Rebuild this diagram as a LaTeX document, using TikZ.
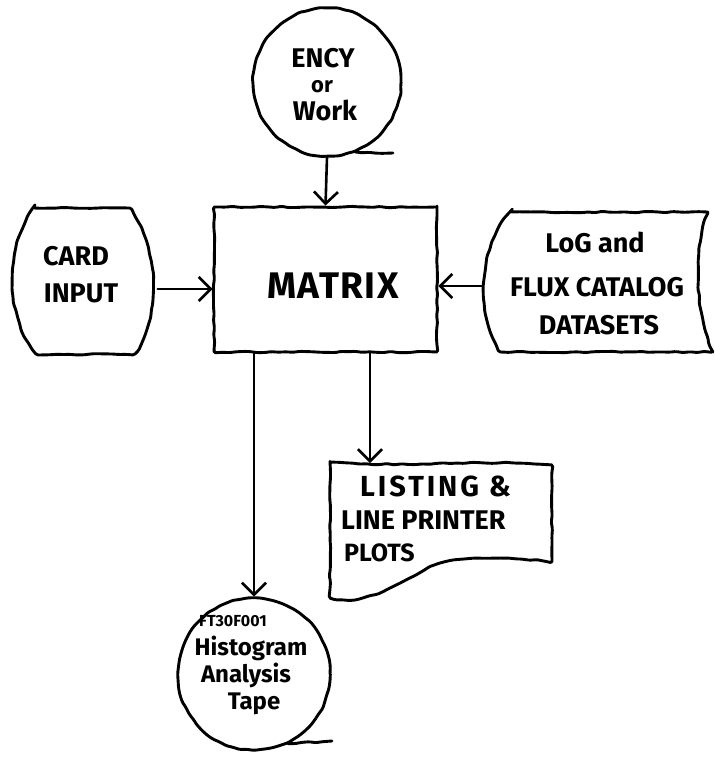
\documentclass[tikz,border=0pt]{standalone}
\usepackage{fontspec}
\setmainfont{Fira Sans}
\usetikzlibrary{arrows.meta,decorations.pathmorphing}

\begin{document}
\begin{tikzpicture}[x=1pt,y=-1pt,
  ink/.style={line width=2.9pt, line cap=round, line join=round,
    decorate, decoration={random steps,segment length=7pt,amplitude=0.7pt},
    rounded corners=1.5pt},
  flow/.style={line width=2.6pt, line cap=round,
    -{Straight Barb[length=12pt,width=24pt,line width=2.6pt]}},
  hand/.style={inner sep=0pt, font=\bfseries\fontsize{27}{30}\selectfont},
  small/.style={inner sep=0pt, font=\bfseries\fontsize{16}{20}\selectfont}
]
\pgfmathsetseed{11}
\useasboundingbox (0,0) rectangle (715,758);

% --- source tape at the top
\node[draw, ink, circle, minimum size=148pt, inner sep=0pt] (ency) at (327,82) {};
\draw[ink] (ency.-68) -- (393,153);
\node[hand] (t1) at (323,58) {ENCY};
\node[hand, font=\bfseries\fontsize{22}{24}\selectfont] (t2) at (322,87) {or};
\node[hand] (t3) at (325,110) {Work};

% --- central program box
\node[draw, ink, rectangle, minimum width=223pt, minimum height=145pt, inner sep=0pt] (mtx) at (325.5,279.5) {};
\node[inner sep=0pt, font=\bfseries\fontsize{37}{40}\selectfont\addfontfeatures{LetterSpace=4}] (mtxlabel) at (333,286) {MATRIX};

% --- card input (bulged sides)
\node[inner sep=0pt, minimum width=145pt, minimum height=147pt] (card) at (85,289) {};
\draw[ink] (33,208) -- (130,208) .. controls (160,250) and (160,320) .. (135,354)
  -- (38,355) .. controls (5,320) and (5,250) .. cycle;
\node[hand] (c1) at (76,256) {CARD};
\node[hand] (c2) at (81,293) {INPUT};

% --- stored catalog datasets
\node[inner sep=0pt, minimum width=230pt, minimum height=141pt] (logds) at (598,286) {};
\draw[ink] (510,212) -- (708,212) .. controls (694,245) and (694,310) .. (713,352)
  -- (500,352) .. controls (476,310) and (478,250) .. cycle;
\node[hand] (l1) at (595,242) {LoG and};
\node[hand] (l2) at (597,287) {FLUX CATALOG};
\node[hand] (l3) at (599,325) {DATASETS};

% --- printed output document
\node[inner sep=0pt, minimum width=222pt, minimum height=141pt] (lst) at (441,532) {};
\coordinate (lstin) at (370,463);
\draw[ink] (330,462) .. controls (400,468) and (480,459) .. (552,465) -- (552,562)
  .. controls (500,556) and (455,556) .. (428,568)
  .. controls (400,582) and (365,607) .. (330,598) -- cycle;
\node[hand, anchor=west, font=\bfseries\fontsize{29}{30}\selectfont\addfontfeatures{LetterSpace=10}] (p1) at (360,486) {LISTING \&};
\node[hand, anchor=west] (p2) at (341,520) {LINE PRINTER};
\node[hand, anchor=west, font=\bfseries\fontsize{25}{30}\selectfont] (p3) at (344,553) {PLOTS};

% --- histogram analysis tape
\node[draw, ink, circle, minimum size=152pt, inner sep=0pt] (tape) at (254,674) {};
\draw[ink] (tape.-64) -- (332,741);
\node[small] (h1) at (233,621) {FT30F001};
\node[hand, font=\bfseries\fontsize{24}{28}\selectfont] (h2) at (251,648) {Histogram};
\node[hand, font=\bfseries\fontsize{24}{28}\selectfont] (h3) at (246,675) {Analysis};
\node[hand, font=\bfseries\fontsize{24}{28}\selectfont] (h4) at (254,704) {Tape};

% --- data flow
\draw[flow] (ency.south) -- (mtx.north);
\draw[flow] (card.east) -- (card.east -| mtx.west);
\draw[flow] (logds.west) -- (logds.west -| mtx.east);
\draw[flow] (mtx.south -| lstin) -- (lstin);
\draw[flow] (mtx.south -| tape.north) -- (tape.north);
\end{tikzpicture}
\end{document}
